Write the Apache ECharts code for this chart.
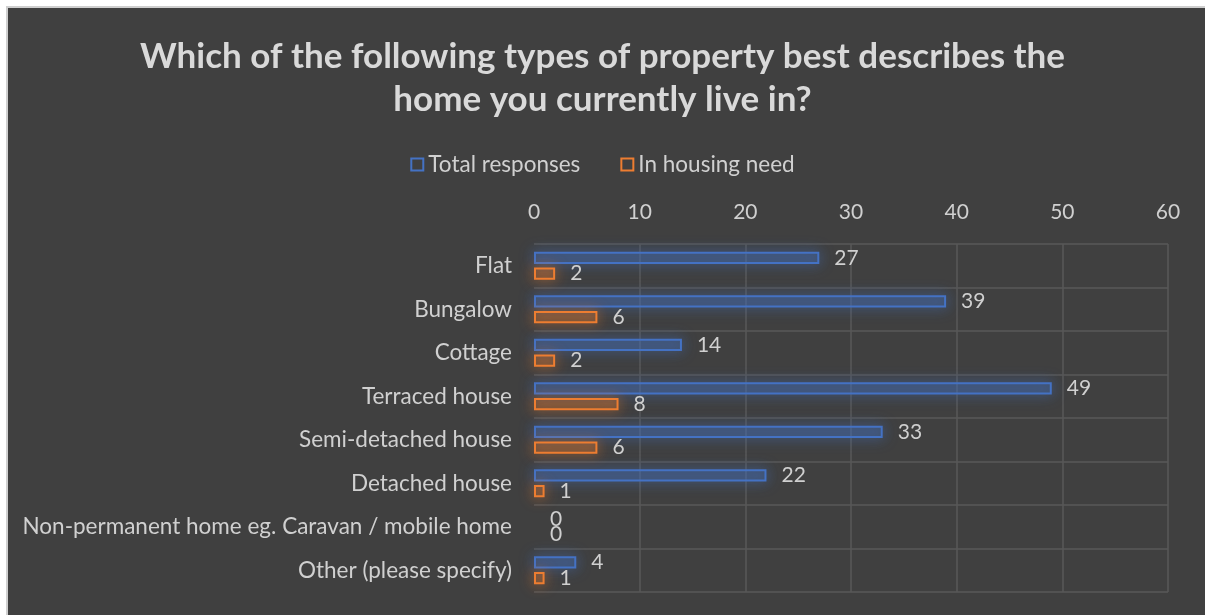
<!DOCTYPE html>
<html>
<head>
<meta charset="utf-8">
<script src="https://cdn.jsdelivr.net/npm/echarts@6/dist/echarts.min.js"></script>
<style>
  html, body { margin: 0; padding: 0; background: #ffffff; }
  #chart { width: 1205px; height: 615px; }
</style>
</head>
<body>
<div id="chart"></div>
<script>
// Property types, listed top to bottom
const categories = [
  'Flat',
  'Bungalow',
  'Cottage',
  'Terraced house',
  'Semi-detached house',
  'Detached house',
  'Non-permanent home eg. Caravan / mobile home',
  'Other (please specify)'
];
const totalResponses = [27, 39, 14, 49, 33, 22, 0, 4];
const inHousingNeed = [2, 6, 2, 8, 6, 1, 0, 1];
const seriesNames = ['Total responses', 'In housing need'];
const axisTicks = [0, 10, 20, 30, 40, 50, 60];

const BLUE = '#4472C4';
const ORANGE = '#ED7D31';
const TEXT = '#d0d0d0';
const GRID = '#595959';
const FONT = 'Lato, "Open Sans", sans-serif';

const chart = echarts.init(document.getElementById('chart'));

// Outlined bar with a soft glow; zero values keep their label but draw no outline
function barSeries(name, values, color, fill, glow) {
  return {
    name: name,
    type: 'bar',
    data: values.map(v => v === 0
      ? { value: v, itemStyle: { borderColor: 'rgba(0,0,0,0)', shadowBlur: 0, color: 'rgba(0,0,0,0)' } }
      : v),
    barGap: '30%',
    barCategoryGap: '36%',
    itemStyle: {
      color: fill,
      borderColor: color,
      borderWidth: 2,
      shadowBlur: 14,
      shadowColor: glow
    },
    label: {
      show: true,
      position: 'right',
      distance: 15,
      color: TEXT,
      fontSize: 21,
      fontFamily: FONT
    }
  };
}

chart.setOption({
  backgroundColor: '#404040',
  title: {
    text: 'Which of the following types of property best describes the\nhome you currently live in?',
    left: 'center',
    top: 30,
    textStyle: {
      color: '#d9d9d9',
      fontSize: 35,
      fontWeight: 'bold',
      fontFamily: FONT,
      lineHeight: 43
    }
  },
  legend: {
    data: seriesNames.map((n, i) => ({
      name: n,
      itemStyle: {
        color: 'transparent',
        borderColor: i === 0 ? BLUE : ORANGE,
        borderWidth: 2
      }
    })),
    icon: 'rect',
    itemWidth: 12,
    itemHeight: 12,
    itemGap: 40,
    left: 'center',
    top: 148,
    textStyle: { color: TEXT, fontSize: 22.5, fontFamily: FONT }
  },
  grid: {
    left: 534,
    right: 37,
    top: 244,
    bottom: 23,
    containLabel: false
  },
  xAxis: {
    type: 'value',
    position: 'top',
    min: axisTicks[0],
    max: axisTicks[axisTicks.length - 1],
    interval: axisTicks[1] - axisTicks[0],
    axisLine: { show: false },
    axisTick: { show: false },
    axisLabel: { color: TEXT, fontSize: 21, fontFamily: FONT, margin: 21 },
    splitLine: {
      show: true,
      lineStyle: {
        width: 1.5,
        color: axisTicks.map((t, i) => (i === 0 ? 'rgba(0,0,0,0)' : GRID))
      }
    }
  },
  yAxis: {
    type: 'category',
    data: categories,
    inverse: true,
    axisLine: { show: false },
    axisTick: { show: false },
    axisLabel: { color: TEXT, fontSize: 22.5, fontFamily: FONT, margin: 22 },
    splitLine: { show: true, lineStyle: { color: GRID, width: 1.5 } }
  },
  graphic: [
    { type: 'rect', shape: { x: 0, y: 0, width: 1205, height: 6 }, style: { fill: '#ffffff' }, silent: true },
    { type: 'rect', shape: { x: 0, y: 0, width: 6, height: 615 }, style: { fill: '#ffffff' }, silent: true },
    { type: 'rect', shape: { x: 6, y: 6, width: 1199, height: 2 }, style: { fill: '#cfcfcf' }, silent: true },
    { type: 'rect', shape: { x: 6, y: 6, width: 2, height: 609 }, style: { fill: '#cfcfcf' }, silent: true }
  ],
  series: [
    barSeries(seriesNames[0], totalResponses, BLUE, 'rgba(68,114,196,0.25)', 'rgba(68,114,196,1)'),
    barSeries(seriesNames[1], inHousingNeed, ORANGE, 'rgba(237,125,49,0.18)', 'rgba(237,125,49,1)')
  ]
});
</script>
</body>
</html>
